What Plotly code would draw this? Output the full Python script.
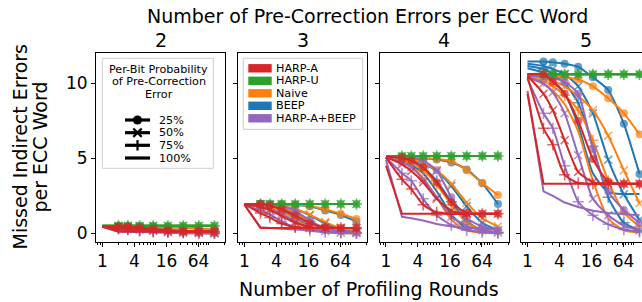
import plotly.graph_objects as go

# ---------------- data ----------------
rounds = [1, 2, 3, 5, 9, 17, 33, 65, 128]
x_tick_vals = [1, 4, 16, 64]
x_tick_text = ["1", "4", "16", "64"]
y_tick_vals = [0, 5, 10]
y_tick_text = ["0", "5", "10"]
error_counts = ["2", "3", "4", "5"]
method_names = ["HARP-A", "HARP-U", "Naive", "BEEP", "HARP-A+BEEP"]
method_colors = ["#d62728", "#2ca02c", "#ff7f0e", "#1f77b4", "#9467bd"]
prob_labels = ["25%", "50%", "75%", "100%"]
prob_symbols = ["circle", "x-thin", "cross-thin", None]

# each list: rows = 25%, 50%, 75%, 100% per-bit probability
harp_a_e2 = [
    [0.45, 0.45, 0.43, 0.38, 0.30, 0.20, 0.14, 0.12, 0.12],
    [0.45, 0.40, 0.35, 0.28, 0.20, 0.14, 0.12, 0.12, 0.12],
    [0.45, 0.30, 0.24, 0.17, 0.13, 0.12, 0.12, 0.12, 0.12],
    [0.44, 0.12, 0.12, 0.12, 0.12, 0.12, 0.12, 0.12, 0.12],
]
harp_u_e2 = [
    [0.50, 0.50, 0.50, 0.50, 0.50, 0.50, 0.50, 0.50, 0.50],
    [0.50, 0.50, 0.50, 0.50, 0.50, 0.50, 0.50, 0.50, 0.50],
    [0.50, 0.50, 0.50, 0.50, 0.50, 0.50, 0.50, 0.50, 0.50],
    [0.50, 0.50, 0.50, 0.50, 0.50, 0.50, 0.50, 0.50, 0.50],
]
naive_e2 = [
    [0.45, 0.45, 0.45, 0.44, 0.43, 0.41, 0.37, 0.31, 0.25],
    [0.45, 0.44, 0.43, 0.41, 0.37, 0.29, 0.19, 0.10, 0.05],
    [0.45, 0.43, 0.41, 0.37, 0.29, 0.17, 0.07, 0.03, 0.01],
    [0.45, 0.42, 0.39, 0.32, 0.21, 0.09, 0.02, 0.00, 0.00],
]
beep_e2 = [
    [0.46, 0.46, 0.46, 0.45, 0.44, 0.42, 0.38, 0.30, 0.20],
    [0.45, 0.44, 0.43, 0.41, 0.36, 0.27, 0.15, 0.06, 0.02],
    [0.45, 0.43, 0.41, 0.36, 0.27, 0.15, 0.06, 0.02, 0.00],
    [0.45, 0.42, 0.38, 0.31, 0.20, 0.08, 0.02, 0.00, 0.00],
]
harp_ab_e2 = [
    [0.45, 0.44, 0.43, 0.40, 0.33, 0.18, 0.08, 0.04, 0.02],
    [0.45, 0.40, 0.36, 0.29, 0.18, 0.08, 0.04, 0.02, 0.01],
    [0.44, 0.34, 0.28, 0.18, 0.09, 0.04, 0.02, 0.01, 0.00],
    [0.44, 0.10, 0.09, 0.08, 0.06, 0.05, 0.04, 0.03, 0.02],
]

harp_a_e3 = [
    [1.95, 1.95, 1.84, 1.60, 1.20, 0.67, 0.40, 0.36, 0.36],
    [1.95, 1.75, 1.55, 1.15, 0.70, 0.42, 0.36, 0.36, 0.36],
    [1.93, 1.35, 1.05, 0.65, 0.42, 0.36, 0.36, 0.36, 0.36],
    [1.90, 0.36, 0.36, 0.36, 0.36, 0.36, 0.36, 0.36, 0.36],
]
harp_u_e3 = [
    [1.95, 1.95, 1.95, 1.95, 1.95, 1.95, 1.95, 1.95, 1.95],
    [1.95, 1.95, 1.95, 1.95, 1.95, 1.95, 1.95, 1.95, 1.95],
    [1.95, 1.95, 1.95, 1.95, 1.95, 1.95, 1.95, 1.95, 1.95],
    [1.95, 1.95, 1.95, 1.95, 1.95, 1.95, 1.95, 1.95, 1.95],
]
naive_e3 = [
    [1.95, 1.95, 1.94, 1.93, 1.90, 1.82, 1.60, 1.30, 0.95],
    [1.95, 1.92, 1.88, 1.80, 1.62, 1.25, 0.75, 0.35, 0.15],
    [1.95, 1.90, 1.83, 1.68, 1.32, 0.75, 0.28, 0.08, 0.02],
    [1.94, 1.85, 1.72, 1.45, 0.95, 0.38, 0.08, 0.01, 0.00],
]
beep_e3 = [
    [1.95, 1.95, 1.94, 1.92, 1.88, 1.80, 1.52, 1.22, 0.78],
    [1.95, 1.92, 1.88, 1.80, 1.60, 1.20, 0.65, 0.25, 0.08],
    [1.95, 1.90, 1.82, 1.68, 1.35, 0.80, 0.30, 0.08, 0.02],
    [1.94, 1.86, 1.75, 1.52, 1.05, 0.45, 0.12, 0.02, 0.00],
]
harp_ab_e3 = [
    [1.95, 1.93, 1.90, 1.80, 1.50, 0.85, 0.35, 0.15, 0.07],
    [1.95, 1.80, 1.62, 1.30, 0.80, 0.35, 0.15, 0.06, 0.02],
    [1.93, 1.52, 1.25, 0.80, 0.40, 0.18, 0.07, 0.03, 0.01],
    [1.90, 0.40, 0.35, 0.30, 0.22, 0.17, 0.13, 0.10, 0.08],
]

harp_a_e4 = [
    [5.10, 5.02, 4.85, 4.40, 3.38, 2.07, 1.35, 1.30, 1.30],
    [5.08, 4.60, 4.15, 3.40, 2.30, 1.50, 1.31, 1.30, 1.30],
    [5.05, 3.60, 2.95, 1.90, 1.40, 1.30, 1.30, 1.30, 1.30],
    [4.50, 1.30, 1.30, 1.30, 1.30, 1.30, 1.30, 1.30, 1.30],
]
harp_u_e4 = [
    [5.15, 5.15, 5.15, 5.15, 5.15, 5.15, 5.15, 5.15, 5.15],
    [5.15, 5.15, 5.15, 5.15, 5.15, 5.15, 5.15, 5.15, 5.15],
    [5.15, 5.15, 5.15, 5.15, 5.15, 5.15, 5.15, 5.15, 5.15],
    [5.15, 5.15, 5.15, 5.15, 5.15, 5.15, 5.15, 5.15, 5.15],
]
naive_e4 = [
    [5.10, 5.08, 5.05, 5.00, 4.95, 4.80, 4.20, 3.35, 2.55],
    [5.10, 5.02, 4.92, 4.70, 4.20, 3.30, 2.05, 1.00, 0.45],
    [5.08, 4.92, 4.70, 4.20, 3.25, 1.90, 0.70, 0.20, 0.05],
    [5.05, 4.80, 4.45, 3.70, 2.40, 0.90, 0.20, 0.03, 0.00],
]
beep_e4 = [
    [5.12, 5.08, 5.05, 5.00, 4.92, 4.72, 4.26, 3.33, 1.95],
    [5.10, 5.02, 4.90, 4.65, 4.15, 3.15, 1.80, 0.70, 0.20],
    [5.08, 4.95, 4.75, 4.35, 3.50, 2.10, 0.80, 0.20, 0.05],
    [5.05, 4.85, 4.55, 4.00, 2.80, 1.25, 0.30, 0.05, 0.00],
]
harp_ab_e4 = [
    [5.10, 5.05, 5.00, 4.85, 4.20, 2.40, 1.00, 0.45, 0.20],
    [5.08, 4.75, 4.40, 3.60, 2.40, 1.10, 0.50, 0.20, 0.05],
    [5.05, 4.00, 3.50, 2.30, 1.20, 0.55, 0.20, 0.08, 0.03],
    [4.90, 1.10, 1.00, 0.85, 0.62, 0.45, 0.35, 0.30, 0.25],
]

harp_a_e5 = [
    [10.60, 10.60, 10.10, 9.30, 7.50, 4.95, 3.45, 3.30, 3.30],
    [10.50, 9.30, 8.20, 6.20, 4.10, 3.40, 3.30, 3.30, 3.30],
    [10.40, 7.00, 5.90, 3.90, 3.35, 3.30, 3.30, 3.30, 3.30],
    [9.30, 3.30, 3.30, 3.30, 3.30, 3.30, 3.30, 3.30, 3.30],
]
harp_u_e5 = [
    [10.60, 10.60, 10.60, 10.60, 10.60, 10.60, 10.60, 10.60, 10.60],
    [10.60, 10.60, 10.60, 10.60, 10.60, 10.60, 10.60, 10.60, 10.60],
    [10.60, 10.60, 10.60, 10.60, 10.60, 10.60, 10.60, 10.60, 10.60],
    [10.60, 10.60, 10.60, 10.60, 10.60, 10.60, 10.60, 10.60, 10.60],
]
naive_e5 = [
    [10.60, 10.55, 10.50, 10.40, 10.25, 9.80, 9.00, 8.00, 6.60],
    [10.50, 10.35, 10.15, 9.80, 9.15, 8.20, 6.50, 4.20, 2.00],
    [10.45, 10.15, 9.80, 9.20, 8.20, 6.20, 3.50, 1.40, 0.45],
    [10.40, 9.95, 9.50, 8.60, 6.80, 3.50, 1.00, 0.20, 0.05],
]
beep_e5 = [
    [11.45, 11.45, 11.40, 11.30, 11.10, 10.40, 9.55, 7.30, 3.95],
    [11.30, 11.15, 10.95, 10.60, 9.80, 8.00, 4.90, 2.60, 0.90],
    [11.15, 10.95, 10.60, 10.00, 8.70, 5.80, 2.40, 0.70, 0.20],
    [11.00, 10.70, 10.20, 9.30, 7.20, 4.00, 2.75, 2.62, 2.62],
]
harp_ab_e5 = [
    [10.50, 10.45, 10.35, 10.10, 9.30, 5.60, 2.80, 1.55, 0.70],
    [10.40, 10.00, 9.40, 8.00, 5.20, 2.30, 1.20, 0.50, 0.20],
    [10.30, 8.00, 7.00, 4.50, 2.10, 1.20, 0.60, 0.25, 0.10],
    [9.50, 2.80, 2.50, 2.05, 1.75, 1.50, 1.35, 1.25, 1.20],
]

panel_data = {
    "HARP-A": [harp_a_e2, harp_a_e3, harp_a_e4, harp_a_e5],
    "HARP-U": [harp_u_e2, harp_u_e3, harp_u_e4, harp_u_e5],
    "Naive": [naive_e2, naive_e3, naive_e4, naive_e5],
    "BEEP": [beep_e2, beep_e3, beep_e4, beep_e5],
    "HARP-A+BEEP": [harp_ab_e2, harp_ab_e3, harp_ab_e4, harp_ab_e5],
}

# ---------------- figure ----------------
W, H = 642, 302
FONT = "DejaVu Sans"


def px(xr):
    return xr / W


def py(yr):
    return 1 - yr / H


panel_left = [96, 238, 379.5, 521]
PW = 129
y_top, y_bot = 53, 242
log_lo = -0.1222
log_hi = [2.306, 2.306, 2.306, 2.154]   # last panel is cut by the figure edge

fig = go.Figure()
color_of = dict(zip(method_names, method_colors))
draw_order = ["BEEP", "Naive", "HARP-A+BEEP", "HARP-U", "HARP-A"]

for pi in range(4):
    xa = "x" if pi == 0 else f"x{pi+1}"
    ya = "y" if pi == 0 else f"y{pi+1}"
    for m in draw_order:
        rows = panel_data[m][pi]
        c = color_of[m]
        for k, vals in enumerate(rows):
            sym = prob_symbols[k]
            sharp = (k == 3 and m in ("HARP-A", "HARP-A+BEEP"))
            shape = "linear" if sharp else "spline"
            if sym is None:
                fig.add_trace(go.Scatter(
                    x=rounds, y=vals, mode="lines", xaxis=xa, yaxis=ya,
                    line=dict(color=c, width=2, shape=shape, smoothing=0.6),
                    showlegend=False, hoverinfo="skip"))
            else:
                sizes = [0] + [8] * (len(rounds) - 1)
                fig.add_trace(go.Scatter(
                    x=rounds, y=vals, mode="lines+markers", xaxis=xa, yaxis=ya,
                    line=dict(color=c, width=2, shape=shape, smoothing=0.6),
                    marker=dict(symbol=sym, size=sizes, color=c,
                                line=dict(color=c, width=1.6 if sym != "circle" else 0)),
                    showlegend=False, hoverinfo="skip"))

axis_common = dict(showgrid=False, zeroline=False, linecolor="black", linewidth=1,
                   ticks="outside", tickcolor="black", ticklen=4, tickwidth=1,
                   tickfont=dict(family=FONT, size=17, color="black"))

layout = dict(
    width=W, height=H, margin=dict(l=0, r=0, t=0, b=0),
    paper_bgcolor="white", plot_bgcolor="white",
    font=dict(family=FONT, color="black"),
    showlegend=False,
)
for pi in range(4):
    sx = "" if pi == 0 else str(pi + 1)
    layout["xaxis" + sx] = dict(
        axis_common, type="log",
        domain=[px(panel_left[pi]), min(1.0, px(panel_left[pi] + PW))],
        range=[log_lo, log_hi[pi]],
        tickvals=x_tick_vals, ticktext=x_tick_text,
        mirror=True, anchor="y" + sx,
        minor=dict(ticks="outside", ticklen=2, tickcolor="black", tickwidth=1, dtick="D1"),
    )
    layout["yaxis" + sx] = dict(
        axis_common,
        domain=[py(y_bot), py(y_top)],
        range=[-0.58, 12.02],
        tickvals=y_tick_vals, ticktext=y_tick_text,
        showticklabels=(pi == 0),
        mirror=(pi < 3), anchor="x" + sx,
    )
fig.update_layout(**layout)

# ---------------- legends (drawn as shapes + text) ----------------
shapes = []
ann = []
LEG_FONT = dict(family=FONT, size=11.2, color="black")


def box(x0, y0, x1, y1):
    shapes.append(dict(type="rect", xref="paper", yref="paper",
                       x0=px(x0), x1=px(x1), y0=py(y1), y1=py(y0),
                       line=dict(color="#cccccc", width=1),
                       fillcolor="rgba(255,255,255,0.8)", layer="above"))


def seg(x0, y0, x1, y1, color="black", width=1.5):
    shapes.append(dict(type="line", xref="paper", yref="paper",
                       x0=px(x0), x1=px(x1), y0=py(y0), y1=py(y1),
                       line=dict(color=color, width=width), layer="above"))


# probability legend (panel 1)
box(102.3, 58.3, 213.3, 168.3)
for txt, yy in zip(["Per-Bit Probability", "of Pre-Correction", "Error"], [69.5, 81.8, 94.1]):
    ann.append(dict(text=txt, x=px(158.5), y=py(yy), xref="paper", yref="paper",
                    showarrow=False, xanchor="center", yanchor="middle", font=LEG_FONT,
                    borderpad=0))
key_y = [120.0, 132.7, 145.3, 158.0]
for lab, sym, yy in zip(prob_labels, prob_symbols, key_y):
    seg(125, yy, 150, yy, width=3.2)
    cx = 137.5
    if sym == "circle":
        r = 4.6
        shapes.append(dict(type="circle", xref="paper", yref="paper",
                           x0=px(cx - r), x1=px(cx + r), y0=py(yy + r), y1=py(yy - r),
                           fillcolor="black", line=dict(color="black", width=0), layer="above"))
    elif sym == "x-thin":
        d = 4.2
        seg(cx - d, yy - d, cx + d, yy + d, width=2.2)
        seg(cx - d, yy + d, cx + d, yy - d, width=2.2)
    elif sym == "cross-thin":
        d = 5.2
        seg(cx, yy - d, cx, yy + d, width=2.2)
    ann.append(dict(text=lab, x=px(158.3), y=py(yy), xref="paper", yref="paper",
                    showarrow=False, xanchor="left", yanchor="middle", font=LEG_FONT,
                    borderpad=0))

# method legend (panel 2)
box(243.3, 58.3, 362.7, 129.3)
meth_y = [68.3, 80.8, 93.3, 105.8, 118.3]
for m, c, yy in zip(method_names, method_colors, meth_y):
    shapes.append(dict(type="rect", xref="paper", yref="paper",
                       x0=px(248.3), x1=px(271.7), y0=py(yy + 4.2), y1=py(yy - 4.2),
                       fillcolor=c, line=dict(color=c, width=0), layer="above"))
    ann.append(dict(text=m, x=px(274.5), y=py(yy), xref="paper", yref="paper",
                    showarrow=False, xanchor="left", yanchor="middle", font=LEG_FONT,
                    borderpad=0))

# ---------------- titles ----------------
BIG = dict(family=FONT, size=19, color="black")
ann.append(dict(text="Number of Pre-Correction Errors per ECC Word", x=px(368), y=py(16),
                xref="paper", yref="paper", showarrow=False, xanchor="center", yanchor="middle",
                font=BIG, borderpad=0))
for pi, lab in enumerate(error_counts):
    cx = panel_left[pi] + PW / 2
    ann.append(dict(text=lab, x=px(cx), y=py(39.5), xref="paper", yref="paper",
                    showarrow=False, xanchor="center", yanchor="middle", font=BIG, borderpad=0))
ann.append(dict(text="Number of Profiling Rounds", x=px(368.5), y=py(289),
                xref="paper", yref="paper", showarrow=False, xanchor="center", yanchor="middle",
                font=BIG, borderpad=0))
ann.append(dict(text="Missed Indirect Errors", x=px(19), y=py(147.5), textangle=-90,
                xref="paper", yref="paper", showarrow=False, xanchor="center", yanchor="middle",
                font=BIG, borderpad=0))
ann.append(dict(text="per ECC Word", x=px(39), y=py(147.5), textangle=-90,
                xref="paper", yref="paper", showarrow=False, xanchor="center", yanchor="middle",
                font=BIG, borderpad=0))
fig.update_layout(annotations=ann, shapes=shapes)

# remove the default page margin so the figure fills the window exactly; no mode bar
fig.write_html("out.html", config={"displayModeBar": False},
               post_script="document.body.style.margin='0';")
